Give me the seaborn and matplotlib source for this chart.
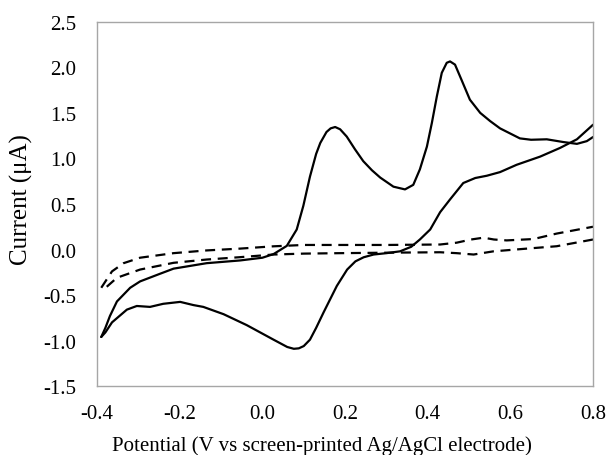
import pandas as pd
import matplotlib.pyplot as plt
import seaborn as sns

# CV with probe (solid), forward / return branches
cv_fwd_x = [-0.390, -0.380, -0.369, -0.352, -0.320, -0.296, -0.250, -0.215, -0.135, -0.054,
            0.000, 0.027, 0.059, 0.083, 0.099, 0.115, 0.130, 0.140, 0.155, 0.165,
            0.176, 0.188, 0.204, 0.224, 0.244, 0.265, 0.285, 0.317, 0.345, 0.365,
            0.381, 0.398, 0.410, 0.422, 0.434, 0.446, 0.454, 0.466, 0.482, 0.502,
            0.527, 0.551, 0.575, 0.623, 0.650, 0.688, 0.728, 0.761, 0.785, 0.800]
cv_fwd_y = [-0.96, -0.86, -0.73, -0.57, -0.42, -0.35, -0.27, -0.21, -0.15, -0.12,
            -0.09, -0.05, 0.04, 0.22, 0.48, 0.80, 1.05, 1.17, 1.29, 1.33,
            1.345, 1.32, 1.24, 1.10, 0.97, 0.87, 0.79, 0.69, 0.66, 0.71,
            0.88, 1.13, 1.39, 1.68, 1.94, 2.05, 2.065, 2.03, 1.86, 1.645,
            1.50, 1.41, 1.33, 1.22, 1.205, 1.21, 1.18, 1.16, 1.19, 1.235]

cv_rev_x = [0.800, 0.761, 0.720, 0.672, 0.615, 0.575, 0.543, 0.515, 0.486, 0.454,
            0.430, 0.406, 0.381, 0.360, 0.333, 0.300, 0.269, 0.245, 0.225, 0.205,
            0.180, 0.148, 0.130, 0.115, 0.100, 0.088, 0.076, 0.060, 0.027, -0.038,
            -0.094, -0.143, -0.167, -0.199, -0.240, -0.272, -0.304, -0.328, -0.364, -0.380,
            -0.390]
cv_rev_y = [1.37, 1.21, 1.115, 1.02, 0.93, 0.85, 0.81, 0.785, 0.73, 0.55,
            0.41, 0.22, 0.11, 0.03, -0.02, -0.04, -0.055, -0.085, -0.13, -0.22,
            -0.40, -0.69, -0.86, -0.99, -1.06, -1.085, -1.09, -1.07, -0.99, -0.83,
            -0.71, -0.63, -0.61, -0.575, -0.596, -0.63, -0.62, -0.66, -0.80, -0.91,
            -0.96]

# blank electrode (dashed)
blank_fwd_x = [-0.390, -0.364, -0.336, -0.296, -0.215, -0.135, -0.054, 0.026, 0.100, 0.212,
               0.300, 0.430, 0.470, 0.505, 0.535, 0.560, 0.591, 0.656, 0.712, 0.800]
blank_fwd_y = [-0.42, -0.24, -0.15, -0.09, -0.04, -0.01, 0.01, 0.035, 0.05, 0.05,
               0.05, 0.055, 0.075, 0.11, 0.13, 0.11, 0.10, 0.115, 0.175, 0.25]

blank_rev_x = [0.800, 0.712, 0.632, 0.559, 0.511, 0.470, 0.430, 0.300, 0.188, 0.100,
               0.027, -0.054, -0.135, -0.215, -0.296, -0.352, -0.377, -0.383]
blank_rev_y = [0.11, 0.036, 0.007, -0.02, -0.055, -0.04, -0.03, -0.035, -0.04, -0.045,
               -0.055, -0.084, -0.11, -0.146, -0.22, -0.31, -0.41, -0.43]

sns.set_style("white")
plt.rcParams["font.family"] = ["Liberation Serif", "DejaVu Serif"]

fig = plt.figure(figsize=(6.07, 4.56), dpi=100)
ax = fig.add_axes([0.160, 0.151, 0.817, 0.799])

branches = [
    (cv_fwd_x, cv_fwd_y, "-"),
    (cv_rev_x, cv_rev_y, "-"),
    (blank_fwd_x, blank_fwd_y, "--"),
    (blank_rev_x, blank_rev_y, "--"),
]
for bx, by, ls in branches:
    df = pd.DataFrame({"E": bx, "I": by})
    sns.lineplot(data=df, x="E", y="I", sort=False, estimator=None,
                 color="black", linewidth=1.6, ax=ax)
    ax.lines[-1].set_solid_joinstyle("round")
    if ls == "--":
        ax.lines[-1].set_dashes((4.5, 3))

ax.set_xlim(-0.4, 0.8)
ax.set_ylim(-1.5, 2.5)
ax.set_xticks([-0.4, -0.2, 0.0, 0.2, 0.4, 0.6, 0.8])
ax.set_yticks([-1.5, -1.0, -0.5, 0.0, 0.5, 1.0, 1.5, 2.0, 2.5])
ax.xaxis.set_major_formatter(plt.FormatStrFormatter("%.1f"))
ax.yaxis.set_major_formatter(plt.FormatStrFormatter("%.1f"))

for s in ax.spines.values():
    s.set_color("#a6a6a6")
    s.set_linewidth(1.0)
ax.tick_params(axis="both", direction="inout", length=7, width=1.0, color="#a6a6a6",
               labelsize=15, labelcolor="black")
ax.tick_params(axis="y", pad=11.5)
ax.tick_params(axis="x", pad=9)

ax.set_xlabel("Potential (V vs screen-printed Ag/AgCl electrode)", fontsize=15,
              color="black")
ax.set_ylabel("Current (μA)", fontsize=18, color="black")
ax.xaxis.set_label_coords(0.454, -0.135)
ax.yaxis.set_label_coords(-0.13, 0.515)

fig.savefig("out.png", dpi=100)
